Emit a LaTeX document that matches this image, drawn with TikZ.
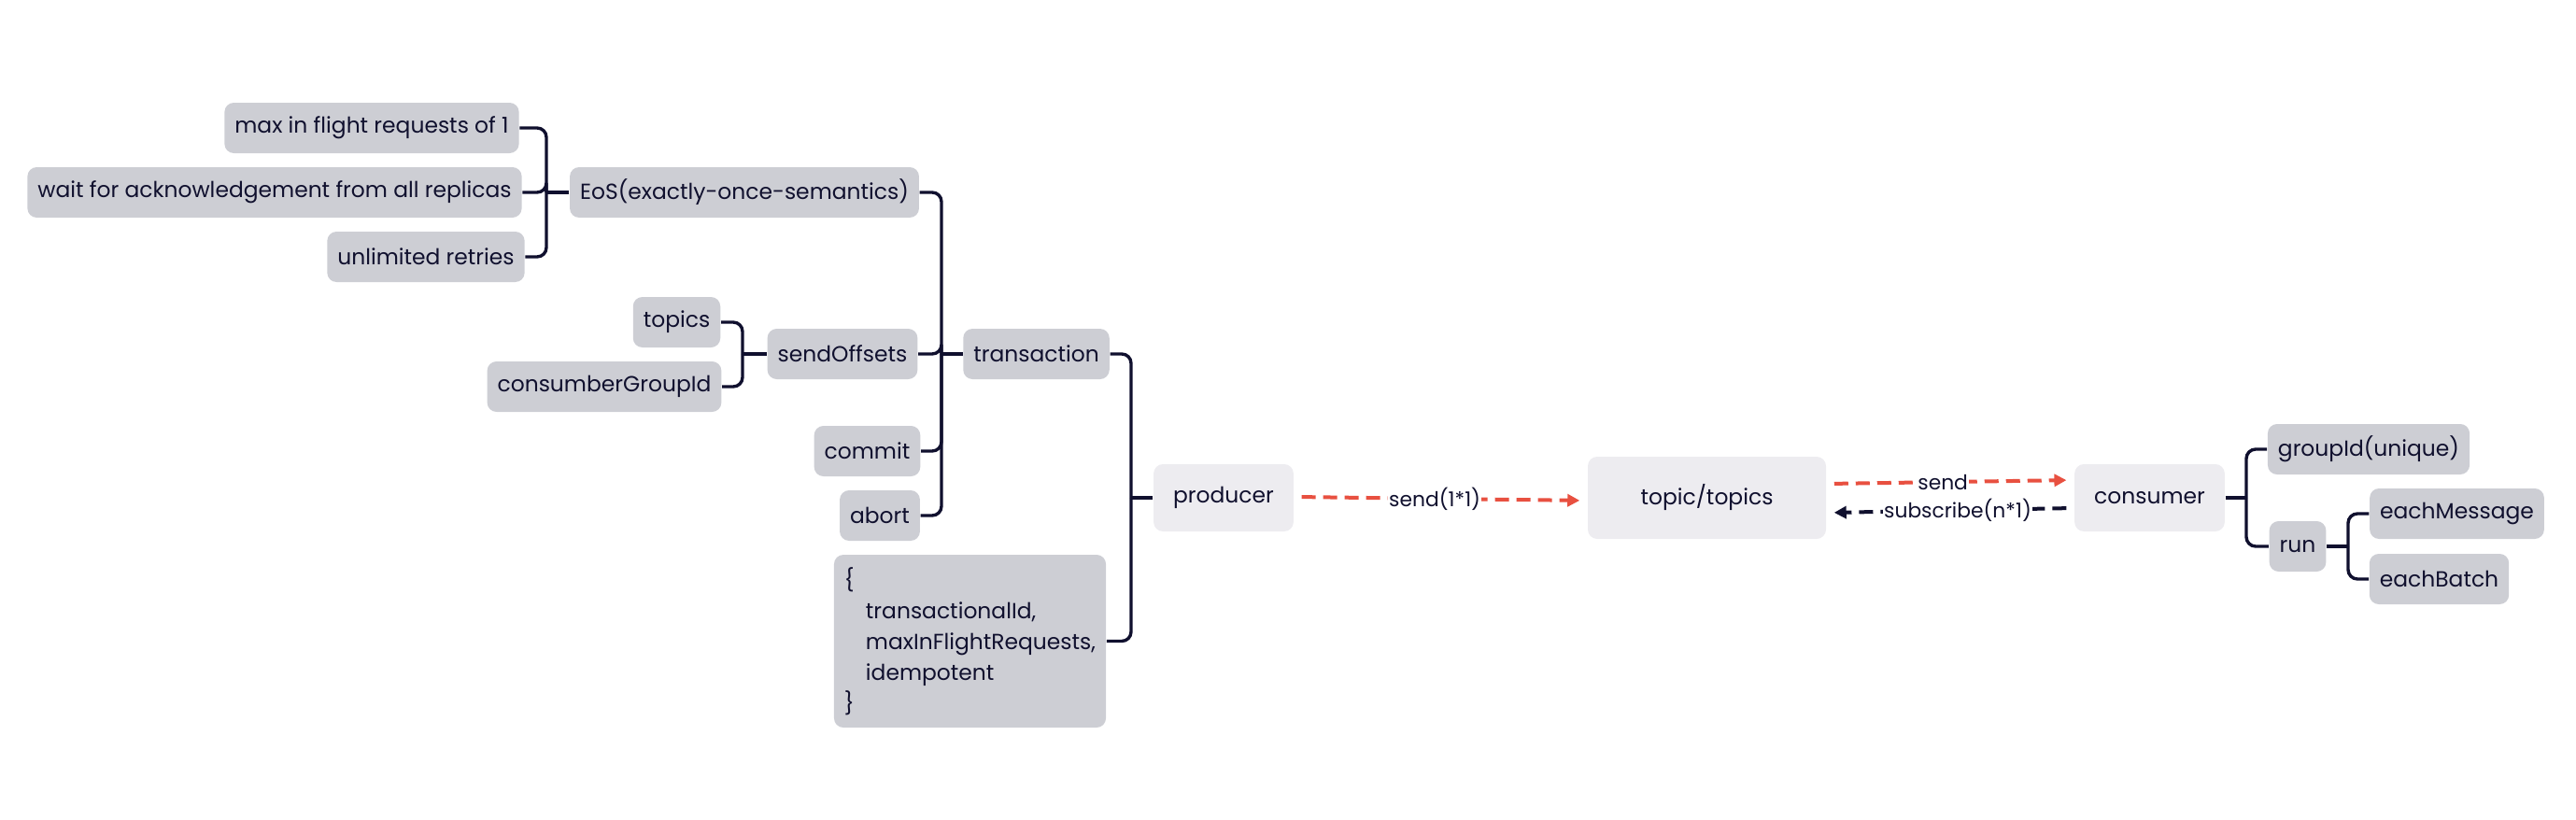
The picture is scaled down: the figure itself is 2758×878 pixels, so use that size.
\documentclass[tikz,border=0pt]{standalone}
\usepackage{fontspec}
\setmainfont{Poppins}
\usetikzlibrary{arrows.meta,calc}

\definecolor{leafgray}{RGB}{205,206,212}
\definecolor{hubgray}{RGB}{237,236,240}
\definecolor{inkblue}{RGB}{16,16,46}
\definecolor{flowred}{RGB}{232,80,64}

\tikzset{every picture/.style={line width=0.75pt}}
\tikzset{
  leaf/.style={fill=leafgray, rounded corners=5pt, inner xsep=5.5pt, inner ysep=0pt,
    minimum height=27pt, text=inkblue, font=\fontsize{11.7}{13}\selectfont},
  hub/.style={fill=hubgray, rounded corners=5pt, inner xsep=10.5pt, inner ysep=0pt,
    minimum height=36pt, text=inkblue, font=\fontsize{11.7}{13}\selectfont},
  branch/.style={draw=inkblue, line width=1.7pt, rounded corners=5pt},
  flow/.style={line width=2pt, dash pattern=on 7.5pt off 4pt,
    -{Triangle[length=6.5pt,width=6.5pt]}, shorten <=4pt, shorten >=4pt},
  flowtag/.style={fill=white, inner sep=0.5pt, text=inkblue, font=\fontsize{10.9}{12}\selectfont}
}

\begin{document}
\begin{tikzpicture}[x=0.5pt,y=0.5pt,yscale=-1,xscale=1]
        \useasboundingbox (0,0) rectangle (2758,878);

        %Shape: Rounded Rect [EoS leaves]
        \node[leaf] (maxflight) at (398,137) {max in flight requests of 1};
        \node[leaf] (waitack) at (294,206) {wait for acknowledgement from all replicas};
        \node[leaf] (retries) at (456,275) {unlimited retries};
        \node[leaf] (eos) at (797,206) {EoS(exactly-once-semantics)};
        %Shape: Rounded Rect [sendOffsets leaves]
        \node[leaf] (topics) at (724.5,345) {topics};
        \node[leaf] (groupid) at (647,414) {consumberGroupId};
        \node[leaf] (sendoffsets) at (902,379) {sendOffsets};
        \node[leaf] (commit) at (928.5,483) {commit};
        \node[leaf] (abort) at (942,552) {abort};
        %Shape: Rounded Rect [transaction]
        \node[leaf] (transaction) at (1109.5,379) {transaction};
        \node[leaf, align=left, minimum height=92.5pt, font=\fontsize{11.7}{16.5}\selectfont] (config) at (1038.5,686.5)
          {\{\\\hspace*{11.5pt}transactionalId,\\\hspace*{11.5pt}maxInFlightRequests,\\\hspace*{11.5pt}idempotent\\\}};

        %Shape: Rounded Rect [main boxes]
        \node[hub] (producer) at (1310,533) {producer};
        \node[hub, minimum width=127.5pt, minimum height=44pt] (topic) at (1827.5,533) {topic/topics};
        \node[hub] (consumer) at (2301.5,533) {consumer};

        %Shape: Rounded Rect [consumer leaves]
        \node[leaf] (uniqueid) at (2536,481) {groupId(unique)};
        \node[leaf] (run) at (2460,585) {run};
        \node[leaf] (eachmsg) at (2630.5,550) {eachMessage};
        \node[leaf] (eachbatch) at (2611.5,620) {eachBatch};

        %Joints
        \coordinate (eosjoint) at (585,206);
        \coordinate (offsetjoint) at (795,379);
        \coordinate (txjoint) at (1008,379);
        \coordinate (prodjoint) at (1211,533);
        \coordinate (consjoint) at (2405,533);
        \coordinate (runjoint) at (2514,585);

        %Straight Lines [brackets]
        \draw[branch] (eos.west) -- (eosjoint);
        \draw[branch] (eosjoint) |- (maxflight.east);
        \draw[branch] (eosjoint) |- (waitack.east);
        \draw[branch] (eosjoint) |- (retries.east);

        \draw[branch] (sendoffsets.west) -- (offsetjoint);
        \draw[branch] (offsetjoint) |- (topics.east);
        \draw[branch] (offsetjoint) |- (groupid.east);

        \draw[branch] (transaction.west) -- (txjoint);
        \draw[branch] (txjoint) |- (eos.east);
        \draw[branch] (txjoint) |- (sendoffsets.east);
        \draw[branch] (txjoint) |- (commit.east);
        \draw[branch] (txjoint) |- (abort.east);

        \draw[branch] (producer.west) -- (prodjoint);
        \draw[branch] (prodjoint) |- (transaction.east);
        \draw[branch] (prodjoint) |- (config.east);

        \draw[branch] (consumer.east) -- (consjoint);
        \draw[branch] (consjoint) |- (uniqueid.west);
        \draw[branch] (consjoint) |- (run.west);

        \draw[branch] (run.east) -- (runjoint);
        \draw[branch] (runjoint) |- (eachmsg.west);
        \draw[branch] (runjoint) |- (eachbatch.west);

        %Straight Lines [dashed flows]
        \draw[flow, draw=flowred] ([yshift=-0.5pt]producer.east) -- node[flowtag, pos=0.48] {send(1*1)} ([yshift=1.5pt]topic.west);
        \draw[flow, draw=flowred] ([yshift=-7.5pt]topic.east) -- node[flowtag, pos=0.47] {send} ([yshift=-9.5pt]consumer.west);
        \draw[flow, draw=inkblue] ([yshift=5.5pt]consumer.west) -- node[flowtag, pos=0.47] {subscribe(n*1)} ([yshift=8pt]topic.east);

    \end{tikzpicture}
\end{document}
